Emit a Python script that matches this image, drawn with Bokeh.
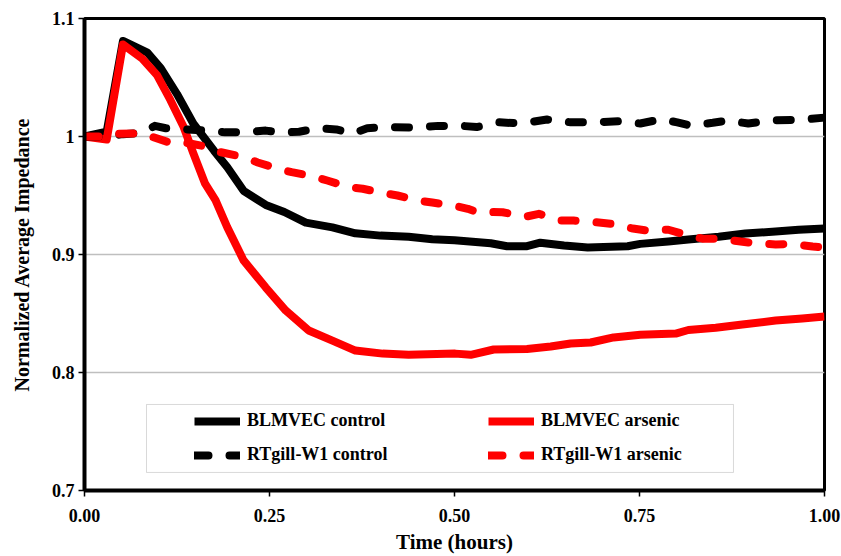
from bokeh.plotting import figure
from bokeh.models import (ColumnDataSource, Range1d, FixedTicker, NumeralTickFormatter,
                          Legend, LegendItem, BoxAnnotation)
from bokeh.embed import file_html
from bokeh.resources import INLINE

# ---------------- data ----------------
t_blm_ctrl = [0, 0.03, 0.052, 0.085, 0.103, 0.125, 0.147, 0.175, 0.193, 0.215, 0.245, 0.27,
              0.299, 0.335, 0.366, 0.40, 0.438, 0.47, 0.50, 0.549, 0.571, 0.598, 0.616, 0.648,
              0.68, 0.734, 0.751, 0.789, 0.816, 0.857, 0.893, 0.934, 0.965, 1.0]
v_blm_ctrl = [1.0, 1.004, 1.081, 1.071, 1.058, 1.036, 1.011, 0.988, 0.974, 0.954, 0.942, 0.936,
              0.927, 0.923, 0.918, 0.916, 0.915, 0.913, 0.912, 0.9095, 0.907, 0.907, 0.910, 0.9076,
              0.906, 0.907, 0.909, 0.911, 0.9127, 0.915, 0.9178, 0.9195, 0.921, 0.922]

t_blm_ars = [0, 0.03, 0.052, 0.078, 0.098, 0.116, 0.134, 0.147, 0.163, 0.177, 0.193, 0.215,
             0.245, 0.272, 0.303, 0.335, 0.366, 0.403, 0.438, 0.501, 0.522, 0.553, 0.598, 0.63,
             0.657, 0.684, 0.715, 0.751, 0.799, 0.816, 0.853, 0.889, 0.934, 0.97, 1.0]
v_blm_ars = [1.0, 0.9975, 1.078, 1.066, 1.052, 1.031, 1.008, 0.986, 0.960, 0.946, 0.923, 0.895,
             0.872, 0.8525, 0.8356, 0.827, 0.8186, 0.816, 0.815, 0.816, 0.815, 0.8195, 0.820, 0.822,
             0.8246, 0.8254, 0.8297, 0.832, 0.833, 0.836, 0.838, 0.8407, 0.844, 0.8458, 0.8475]

t_rt_ctrl = [0, 0.03, 0.052, 0.078, 0.095, 0.11, 0.139, 0.168, 0.19, 0.215, 0.245, 0.265, 0.29,
             0.315, 0.34, 0.362, 0.382, 0.41, 0.445, 0.478, 0.51, 0.53, 0.56, 0.59, 0.625, 0.657,
             0.69, 0.722, 0.751, 0.78, 0.801, 0.819, 0.849, 0.869, 0.897, 0.93, 0.965, 1.0]
v_rt_ctrl = [1.0, 1.0, 1.002, 1.003, 1.009, 1.007, 1.006, 1.005, 1.0035, 1.0035, 1.005, 1.0035,
             1.004, 1.007, 1.006, 1.0025, 1.007, 1.008, 1.0076, 1.009, 1.009, 1.008, 1.012, 1.011,
             1.0144, 1.012, 1.012, 1.013, 1.011, 1.0147, 1.012, 1.0093, 1.0116, 1.0136, 1.011,
             1.0138, 1.014, 1.016]

t_rt_ars = [0, 0.03, 0.046, 0.078, 0.093, 0.12, 0.139, 0.168, 0.184, 0.215, 0.234, 0.262, 0.28,
            0.31, 0.328, 0.357, 0.376, 0.404, 0.423, 0.451, 0.47, 0.499, 0.518, 0.532, 0.546,
            0.565, 0.596, 0.614, 0.643, 0.661, 0.69, 0.711, 0.741, 0.76, 0.789, 0.808, 0.836,
            0.855, 0.884, 0.904, 0.934, 0.954, 0.984, 1.0]
v_rt_ars = [1.0, 1.0, 1.0023, 1.0028, 0.9994, 0.9938, 0.9945, 0.991, 0.9867, 0.9825, 0.978,
            0.9726, 0.9698, 0.966, 0.9627, 0.957, 0.9557, 0.952, 0.95, 0.9458, 0.944, 0.9415,
            0.9387, 0.9356, 0.936, 0.9358, 0.932, 0.9345, 0.9288, 0.9288, 0.9274, 0.926, 0.922,
            0.9203, 0.921, 0.9175, 0.9133, 0.9133, 0.9113, 0.9096, 0.9085, 0.909, 0.9068, 0.906]

series_names = ["BLMVEC control", "BLMVEC arsenic", "RTgill-W1 control", "RTgill-W1 arsenic"]
x_ticks = [0.0, 0.25, 0.5, 0.75, 1.0]
y_ticks = [0.7, 0.8, 0.9, 1.0, 1.1]
y_tick_labels = ["0.7", "0.8", "0.9", "1", "1.1"]

# ---------------- figure ----------------
FONT = "Liberation Serif"
p = figure(width=841, height=556, output_backend="svg", toolbar_location=None,
           x_range=Range1d(0, 1.0), y_range=Range1d(0.7, 1.1),
           min_border_left=84, min_border_right=17, min_border_top=18, min_border_bottom=66)
p.background_fill_color = "white"
p.border_fill_color = "white"
p.outline_line_color = "black"
p.outline_line_width = 3

p.xgrid.visible = False
p.ygrid.ticker = FixedTicker(ticks=y_ticks)
p.ygrid.grid_line_color = "#bfbfbf"
p.ygrid.grid_line_width = 1.5

for ax in (p.xaxis[0], p.yaxis[0]):
    ax.axis_line_width = 4
    ax.axis_line_color = "black"
    ax.major_tick_line_color = "black"
    ax.major_tick_line_width = 1.5
    ax.major_tick_in = 0
    ax.major_tick_out = 6
    ax.minor_tick_line_color = None
    ax.major_label_text_font = FONT
    ax.major_label_text_font_style = "bold"
    ax.major_label_text_font_size = "18px"
    ax.major_label_text_color = "black"
    ax.axis_label_text_font = FONT
    ax.axis_label_text_font_style = "bold"
    ax.axis_label_text_color = "black"

p.xaxis.ticker = FixedTicker(ticks=x_ticks)
p.xaxis.formatter = NumeralTickFormatter(format="0.00")
p.xaxis.axis_label = "Time (hours)"
p.xaxis.axis_label_text_font_size = "21px"
p.xaxis.major_label_standoff = 12
p.xaxis.axis_label_standoff = 5

p.yaxis.ticker = FixedTicker(ticks=y_ticks)
p.yaxis.major_label_overrides = {k: v for k, v in zip(y_ticks, y_tick_labels)}
p.yaxis.axis_label = "Normalized Average Impedance"
p.yaxis.axis_label_text_font_size = "20px"
p.yaxis.major_label_standoff = 4
p.yaxis.axis_label_standoff = 16

LW = 8
r1 = p.line(t_blm_ctrl, v_blm_ctrl, line_color="black", line_width=LW, line_join="round")
r2 = p.line(t_blm_ars, v_blm_ars, line_color="#ff0000", line_width=LW, line_join="round")
r3 = p.line(t_rt_ctrl, v_rt_ctrl, line_color="black", line_width=LW, line_dash="14 21",
            line_cap="round", line_join="round")
r4 = p.line(t_rt_ars, v_rt_ars, line_color="#ff0000", line_width=LW, line_dash="14 21",
            line_cap="round", line_join="round")

# legend frame
box = BoxAnnotation(left=0.0838, right=0.877, bottom=0.7153, top=0.7729,
                    fill_color="white", fill_alpha=1.0, line_color="#808080", line_width=1)
p.add_layout(box)

def make_legend(items, xoff):
    lg = Legend(items=items, location=(xoff, 25), orientation="vertical",
                border_line_alpha=0, background_fill_alpha=0, padding=0, margin=0,
                spacing=13, glyph_width=46, glyph_height=20, label_height=20,
                label_standoff=7, label_text_font=FONT, label_text_font_style="bold",
                label_text_font_size="18px", label_text_color="black",
                label_text_baseline="middle")
    return lg

leg1 = make_legend([LegendItem(label=series_names[0], renderers=[r1]),
                    LegendItem(label=series_names[2], renderers=[r3])], 110)
leg2 = make_legend([LegendItem(label=series_names[1], renderers=[r2]),
                    LegendItem(label=series_names[3], renderers=[r4])], 404)
p.add_layout(leg1, "center")
p.add_layout(leg2, "center")

open("out.html", "w").write(file_html(p, INLINE))
